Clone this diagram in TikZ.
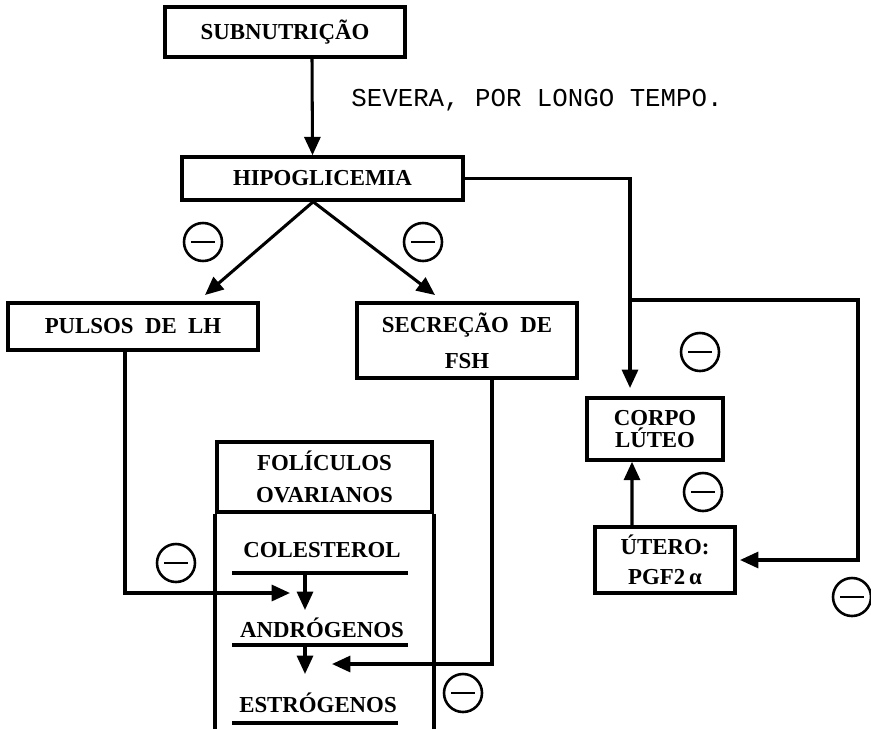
\documentclass[tikz,border=0pt]{standalone}
\usepackage{fontspec}
\setmainfont{Liberation Serif}
\setmonofont{Liberation Mono}
\usetikzlibrary{arrows.meta,calc}
\tikzset{
  signal/.style={-{Triangle[length=0.55cm,width=0.48cm]}, line width=2.6pt, draw=black},
  frame/.style={line width=3pt, draw=black},
  block/.style={rectangle, draw=black, line width=3pt, fill=none, align=center, inner sep=0pt,
    font=\bfseries\fontsize{19.5}{27}\selectfont},
  chem/.style={inner sep=0pt, font=\bfseries\fontsize{19.5}{22}\selectfont},
  inhib/.style={circle, draw=black, line width=2.2pt, minimum size=1.14cm, inner sep=0pt,
    path picture={\draw[line width=2.4pt] ([xshift=-0.36cm]path picture bounding box.center)
      -- ([xshift=0.36cm]path picture bounding box.center);}},
  note/.style={font=\ttfamily\fontsize{22}{22}\selectfont}
}
\begin{document}
\begin{tikzpicture}[x=0.03cm, y=-0.03cm]
  \useasboundingbox (0,0) rectangle (871,728);
  % top chain
  \node[block, minimum width=7.2cm, minimum height=1.5cm] (sub) at (285,32) {SUBNUTRIÇÃO};
  \node[note] (sev) at (537,100) {SEVERA, POR LONGO TEMPO.};
  \node[block, minimum width=8.43cm, minimum height=1.29cm] (hipo) at (322.5,178.5) {HIPOGLICEMIA};
  \node[block, minimum width=7.5cm, minimum height=1.41cm] (lh) at (133,326.5) {PULSOS~~DE~~LH};
  \node[block, minimum width=6.6cm, minimum height=2.25cm, font=\bfseries\fontsize{19.5}{31}\selectfont] (fsh) at (467,340.5) {SECREÇÃO~~DE\\FSH};
  \node[block, minimum width=4.08cm, minimum height=1.86cm, font=\bfseries\fontsize{19.5}{19}\selectfont] (corpo) at (655,429) {CORPO\\LÚTEO};
  \node[block, minimum width=4.2cm, minimum height=1.98cm, font=\bfseries\fontsize{19.5}{26}\selectfont] (utero) at (665,560) {ÚTERO:\\PGF2\,α};

  % ovarian follicles
  \node[block, minimum width=6.45cm, minimum height=2.1cm] (fol) at (324.5,477) {FOLÍCULOS\\OVARIANOS};
  \draw[frame] (fol.south west) -- ++(0,220);
  \draw[frame] (fol.south east) -- ++(0,220);
  \node[chem] (col) at (322,550) {COLESTEROL};
  \node[chem] (andr) at (322,628) {ANDRÓGENOS};
  \node[chem] (estr) at (318,703) {ESTRÓGENOS};
  \draw[line width=2.6pt] (232,573) -- (408,573);
  \draw[line width=2.6pt] (232,645) -- (408,645);
  \draw[line width=2.6pt] (232,723) -- (398,723);

  \coordinate (c1) at (305,573);
  \coordinate (c1e) at (305,610);
  \coordinate (c2) at (305,645);
  \coordinate (c2e) at (305,674);
  \draw[signal] (c1) -- (c1e);
  \draw[signal] (c2) -- (c2e);

  % connectors
  \coordinate (lhtip) at (205,295);
  \coordinate (fshtip) at (435,295);
  \coordinate (cltip) at (630,388);
  \coordinate (lhin) at (290,593);
  \coordinate (fshin) at (332,664);
  \coordinate (fork) at (630,300);
  \coordinate (loopc) at (858,300);
  \coordinate (uttip) at (740,560);

  \draw[signal] ([xshift=0.81cm]sub.south) -- ([xshift=-0.3cm]hipo.north);
  \draw[signal] ([xshift=-0.28cm]hipo.south) -- (lhtip);
  \draw[signal] ([xshift=-0.28cm]hipo.south) -- (fshtip);
  \draw[signal] (hipo.east) -| (cltip);
  \draw[signal] ([xshift=-0.24cm]lh.south) |- (lhin);
  \draw[signal] ([xshift=0.75cm]fsh.south) |- (fshin);
  \draw[signal] (fork) -- (loopc) |- (uttip);
  \draw[signal] ([xshift=-0.99cm]utero.north) -- ([xshift=-0.69cm]corpo.south);

  % inhibition marks
  \node[inhib] (m1) at (203,242) {};
  \node[inhib] (m2) at (423,242) {};
  \node[inhib] (m3) at (176,563) {};
  \node[inhib] (m4) at (463,693) {};
  \node[inhib] (m5) at (700,352) {};
  \node[inhib] (m6) at (703,492) {};
  \node[inhib] (m7) at (852,597) {};
\end{tikzpicture}
\end{document}
